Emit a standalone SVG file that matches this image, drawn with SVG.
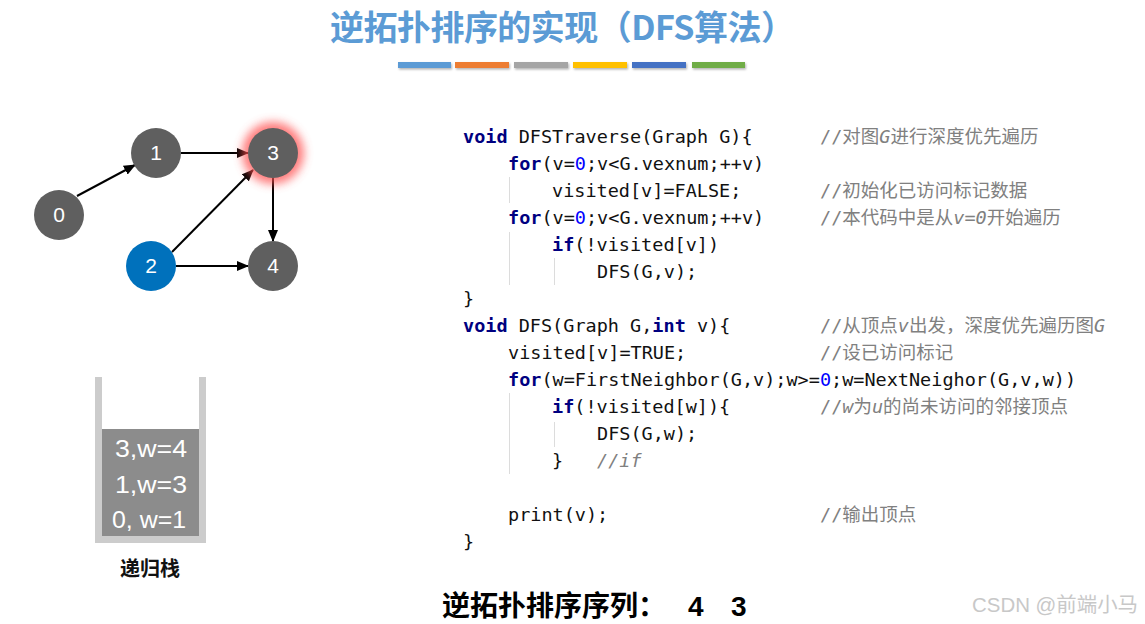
<svg xmlns="http://www.w3.org/2000/svg" width="1145" height="624" viewBox="0 0 1145 624">
<style>
.title{font-family:"Noto Sans CJK SC","Liberation Sans",sans-serif;font-size:34px;font-weight:bold;fill:#5B9BD5}
.node circle{fill:#5f5f5f}
.node text{font-family:"Liberation Sans",Arial,sans-serif;font-size:21px;fill:#fff;text-anchor:middle}
.edge{stroke:#000;stroke-width:2;fill:none;marker-end:url(#arr)}
.code{font-family:"DejaVu Sans Mono","Noto Sans CJK SC",monospace;font-size:18.5px;fill:#111}
.kw{fill:#000080;font-weight:bold}
.num{fill:#0000ff}
.cm{font-family:"DejaVu Sans Mono","Noto Sans CJK SC",monospace;font-size:18.5px;fill:#808080}
.it{font-style:italic}
.guide{stroke:#dcdcdc;stroke-width:1}
.stk{font-family:"Liberation Sans",Arial,sans-serif;font-size:23px;fill:#fff;text-anchor:middle}
</style>
<defs>
<marker id="arr" viewBox="0 0 12 10" refX="11" refY="5" markerWidth="12" markerHeight="10" markerUnits="userSpaceOnUse" orient="auto">
<path d="M0,0 L12,5 L0,10 z" fill="#000"/>
</marker>
<filter id="glow" x="-1" y="-1" width="3" height="3"><feGaussianBlur stdDeviation="5"/></filter>
<filter id="sh" x="-0.1" y="-1" width="1.2" height="3"><feDropShadow dx="1" dy="1.5" stdDeviation="1" flood-color="#000" flood-opacity="0.3"/></filter>
</defs>
<rect width="1145" height="624" fill="#fff"/>
<g id="title">
<text class="title" x="330" y="40" textLength="465" lengthAdjust="spacing">逆拓扑排序的实现（DFS算法）</text>
<g filter="url(#sh)">
<rect x="398" y="62" width="53" height="6" fill="#5B9BD5"/>
<rect x="455" y="62" width="54" height="6" fill="#ED7D31"/>
<rect x="514" y="62" width="54" height="6" fill="#A5A5A5"/>
<rect x="573" y="62" width="54" height="6" fill="#FFC000"/>
<rect x="632" y="62" width="54" height="6" fill="#4472C4"/>
<rect x="692" y="62" width="53" height="6" fill="#70AD47"/>
</g>
</g>
<g id="connectors">
<line class="edge" x1="77" y1="196" x2="135" y2="165"/>
<line class="edge" x1="181" y1="153" x2="248" y2="153"/>
<line class="edge" x1="172" y1="252" x2="253" y2="170"/>
<line class="edge" x1="176" y1="266" x2="248" y2="266"/>
<line class="edge" x1="273" y1="178" x2="273" y2="241"/>
</g>
<g id="node0" class="node"><circle cx="59" cy="215" r="25"/><text x="59" y="222">0</text></g>
<g id="node1" class="node"><circle cx="156" cy="153" r="25"/><text x="156" y="160">1</text></g>
<g id="node3" class="node"><circle cx="273" cy="153" r="31" opacity="0.75" filter="url(#glow)" style="fill:#ff5050"/><circle cx="273" cy="153" r="25"/><text x="273" y="160">3</text></g>
<g id="node2" class="node"><circle cx="151" cy="266" r="25" style="fill:#0071BC"/><text x="151" y="273">2</text></g>
<g id="node4" class="node"><circle cx="273" cy="266" r="25"/><text x="273" y="273">4</text></g>
<g id="stack">
<rect x="95" y="377" width="7" height="166" fill="#cccccc"/>
<rect x="199" y="377" width="7" height="166" fill="#cccccc"/>
<rect x="95" y="536" width="111" height="7" fill="#cccccc"/>
<rect x="102" y="429" width="97" height="107" fill="#8c8c8c"/>
<text class="stk" x="151" y="457" textLength="72" lengthAdjust="spacingAndGlyphs">3,w=4</text>
<text class="stk" x="151" y="493" textLength="72" lengthAdjust="spacingAndGlyphs">1,w=3</text>
<text class="stk" x="149" y="528" textLength="74" lengthAdjust="spacingAndGlyphs">0, w=1</text>
<text x="150" y="576" text-anchor="middle" font-family="'Noto Sans CJK SC',sans-serif" font-size="20" font-weight="bold" fill="#111">递归栈</text>
</g>
<g id="code">
<line class="guide" x1="509.5" y1="177" x2="509.5" y2="203"/>
<line class="guide" x1="509.5" y1="232" x2="509.5" y2="285"/>
<line class="guide" x1="554.5" y1="258" x2="554.5" y2="285"/>
<line class="guide" x1="509.5" y1="393" x2="509.5" y2="474"/>
<line class="guide" x1="554.5" y1="422" x2="554.5" y2="447"/>
<text class="code" x="463" y="143"><tspan class="kw">void</tspan> DFSTraverse(Graph G){</text>
<text class="code" x="508" y="170"><tspan class="kw">for</tspan>(v=<tspan class="num">0</tspan>;v&lt;G.vexnum;++v)</text>
<text class="code" x="552" y="197">visited[v]=FALSE;</text>
<text class="code" x="508" y="224"><tspan class="kw">for</tspan>(v=<tspan class="num">0</tspan>;v&lt;G.vexnum;++v)</text>
<text class="code" x="552" y="251"><tspan class="kw">if</tspan>(!visited[v])</text>
<text class="code" x="597" y="278">DFS(G,v);</text>
<text class="code" x="463" y="305">}</text>
<text class="code" x="463" y="332"><tspan class="kw">void</tspan> DFS(Graph G,<tspan class="kw">int</tspan> v){</text>
<text class="code" x="508" y="359">visited[v]=TRUE;</text>
<text class="code" x="508" y="386"><tspan class="kw">for</tspan>(w=FirstNeighbor(G,v);w&gt;=<tspan class="num">0</tspan>;w=NextNeighor(G,v,w))</text>
<text class="code" x="552" y="413"><tspan class="kw">if</tspan>(!visited[w]){</text>
<text class="code" x="597" y="440">DFS(G,w);</text>
<text class="code" x="552" y="467">}</text>
<text class="cm it" x="597" y="467">//if</text>
<text class="code" x="508" y="521">print(v);</text>
<text class="code" x="463" y="548">}</text>
<text class="cm" x="820" y="143">//对图<tspan class="it">G</tspan>进行深度优先遍历</text>
<text class="cm" x="820" y="197">//初始化已访问标记数据</text>
<text class="cm" x="820" y="224">//本代码中是从<tspan class="it">v=0</tspan>开始遍历</text>
<text class="cm" x="820" y="332">//从顶点<tspan class="it">v</tspan>出发，深度优先遍历图<tspan class="it">G</tspan></text>
<text class="cm" x="820" y="359">//设已访问标记</text>
<text class="cm" x="820" y="413">//<tspan class="it">w</tspan>为<tspan class="it">u</tspan>的尚未访问的邻接顶点</text>
<text class="cm" x="820" y="521">//输出顶点</text>
</g>
<g id="result">
<text x="442" y="616" font-family="'Noto Sans CJK SC',sans-serif" font-size="28" font-weight="bold" fill="#000">逆拓扑排序序列：</text>
<text x="688" y="616" font-family="'Liberation Sans',Arial,sans-serif" font-size="28" font-weight="bold" fill="#000">4</text>
<text x="731" y="616" font-family="'Liberation Sans',Arial,sans-serif" font-size="28" font-weight="bold" fill="#000">3</text>
</g>
<text x="972" y="612" font-family="'Liberation Sans','Noto Sans CJK SC',sans-serif" font-size="20" fill="#c8c8c8" textLength="166" lengthAdjust="spacingAndGlyphs">CSDN @前端小马</text>
</svg>
